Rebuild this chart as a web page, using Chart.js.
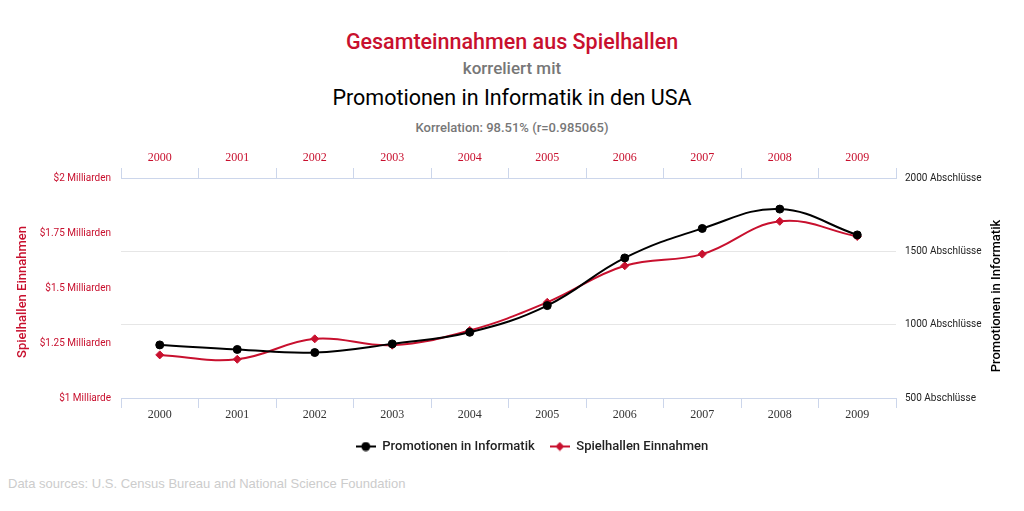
<!DOCTYPE html>
<html>
<head>
<meta charset="utf-8">
<script src="https://cdn.jsdelivr.net/npm/chart.js@4"></script>
<style>
    body { margin: 0; width: 1024px; height: 511px; background: #fff; position: relative; overflow: hidden; font-family: Roboto, sans-serif; }
    .line { position: absolute; left: 0; width: 1024px; text-align: center; white-space: nowrap; }
    #t1 { top: 28px; line-height: 28px; font-size: 21.5px; font-weight: 500; color: #c8102e; }
    #t2 { top: 56px; line-height: 24px; font-size: 17px; font-weight: 500; color: #777; }
    #t3 { top: 84px; line-height: 28px; font-size: 21.5px; color: #000; }
    #t4 { top: 119px; line-height: 18px; font-size: 13px; font-weight: 500; color: #777; }
    #chart { position: absolute; left: 0; top: 140px; }
    #quelle { position: absolute; left: 8px; top: 476px; line-height: 16px; font-family: "Liberation Sans", Arial, sans-serif; font-size: 13px; color: #ccc; }
</style>
</head>
<body>
<div class="line" id="t1">Gesamteinnahmen aus Spielhallen</div>
<div class="line" id="t2">korreliert mit</div>
<div class="line" id="t3">Promotionen in Informatik in den USA</div>
<div class="line" id="t4">Korrelation: 98.51% (r=0.985065)</div>
<canvas id="chart" width="1024" height="323"></canvas>
<div id="quelle">Data sources: U.S. Census Bureau and National Science Foundation</div>
<script>
const years = ['2000', '2001', '2002', '2003', '2004', '2005', '2006', '2007', '2008', '2009'];
// Promotionen (Abschlüsse)
const promotionen = [862, 831, 810, 869, 948, 1130, 1455, 1656, 1788, 1612];
// Spielhallen Einnahmen in Milliarden $
const einnahmen = [1.196, 1.176, 1.269, 1.240, 1.307, 1.435, 1.601, 1.654, 1.803, 1.734];
const leftTicks = [1, 1.25, 1.5, 1.75, 2];
const rightTicks = [500, 1000, 1500, 2000];

const ROT = '#c8102e';
const SCHWARZ = '#000000';
const ACHSE = '#ccd6eb';

function makeMarker(color, shape) {
    const c = document.createElement('canvas');
    c.width = 20;
    c.height = 10;
    const g = c.getContext('2d');
    g.strokeStyle = color;
    g.lineWidth = 2;
    g.beginPath();
    g.moveTo(0, 5);
    g.lineTo(20, 5);
    g.stroke();
    g.fillStyle = color;
    g.beginPath();
    if (shape === 'circle') {
        g.arc(10, 5, 4.5, 0, Math.PI * 2);
    } else {
        g.moveTo(10, 0.5);
        g.lineTo(14.5, 5);
        g.lineTo(10, 9.5);
        g.lineTo(5.5, 5);
        g.closePath();
    }
    g.fill();
    return c;
}

// Achsentitel (beide von unten nach oben gelesen)
const axisTitles = {
    id: 'axisTitles',
    afterDraw(chart) {
        const {ctx, chartArea} = chart;
        const mid = (chartArea.top + chartArea.bottom) / 2;
        ctx.save();
        ctx.font = '500 13px Roboto, sans-serif';
        ctx.textAlign = 'center';
        ctx.textBaseline = 'middle';

        ctx.save();
        ctx.translate(chartArea.left - 98, mid + 4);
        ctx.rotate(-Math.PI / 2);
        ctx.fillStyle = ROT;
        ctx.fillText('Spielhallen Einnahmen', 0, 0);
        ctx.restore();

        ctx.save();
        ctx.translate(chartArea.right + 101, mid + 8);
        ctx.rotate(-Math.PI / 2);
        ctx.fillStyle = SCHWARZ;
        ctx.fillText('Promotionen in Informatik', 0, 0);
        ctx.restore();

        ctx.restore();
    }
};

const serifFont = {family: '"Liberation Serif", "Times New Roman", serif', size: 12};
const smallFont = {family: 'Roboto, sans-serif', size: 10};

new Chart(document.getElementById('chart'), {
    type: 'line',
    data: {
        labels: years,
        datasets: [{
            label: 'Promotionen in Informatik',
            data: promotionen,
            yAxisID: 'yR',
            borderColor: SCHWARZ,
            backgroundColor: SCHWARZ,
            borderWidth: 2,
            tension: 0.4,
            pointStyle: 'circle',
            pointRadius: 4,
            pointBorderWidth: 1,
            marker: makeMarker(SCHWARZ, 'circle')
        }, {
            label: 'Spielhallen Einnahmen',
            data: einnahmen,
            yAxisID: 'yL',
            borderColor: ROT,
            backgroundColor: ROT,
            borderWidth: 2,
            tension: 0.4,
            pointStyle: 'rectRot',
            pointRadius: 4,
            pointBorderWidth: 1,
            marker: makeMarker(ROT, 'diamond')
        }]
    },
    options: {
        responsive: false,
        animation: false,
        devicePixelRatio: 1,
        layout: {padding: {left: 40, right: 0, top: 0, bottom: 0}},
        plugins: {
            title: {display: false},
            tooltip: {enabled: false},
            legend: {
                position: 'bottom',
                labels: {
                    usePointStyle: true,
                    pointStyleWidth: 20,
                    boxHeight: 10,
                    padding: 15,
                    color: '#222',
                    font: {family: 'Roboto, sans-serif', size: 13, weight: '500'},
                    generateLabels(chart) {
                        return chart.data.datasets.map((ds, i) => ({
                            text: ds.label,
                            fillStyle: ds.borderColor,
                            strokeStyle: ds.borderColor,
                            lineWidth: 0,
                            pointStyle: ds.marker,
                            hidden: false,
                            datasetIndex: i,
                            fontColor: '#222'
                        }));
                    }
                }
            }
        },
        scales: {
            x: {
                type: 'category',
                position: 'bottom',
                offset: true,
                grid: {offset: true, drawOnChartArea: false, drawTicks: true, tickLength: 10, color: ACHSE},
                border: {display: true, color: ACHSE},
                ticks: {color: '#333', font: serifFont, padding: 0, maxRotation: 0, autoSkip: false},
                afterFit(s) { s.height = 27; }
            },
            xTop: {
                type: 'category',
                position: 'top',
                labels: years,
                offset: true,
                grid: {offset: true, drawOnChartArea: false, drawTicks: true, tickLength: 10, color: ACHSE},
                border: {display: true, color: ACHSE},
                ticks: {color: ROT, font: serifFont, padding: 3, maxRotation: 0, autoSkip: false},
                afterFit(s) { s.height = 38; }
            },
            yL: {
                position: 'left',
                min: 1,
                max: 2,
                grid: {display: false, drawTicks: false},
                border: {display: false},
                afterBuildTicks(s) { s.ticks = leftTicks.map(v => ({value: v})); },
                ticks: {
                    color: ROT,
                    padding: 10,
                    font: smallFont,
                    callback: v => v === 1 ? '$1 Milliarde' : '$' + v + ' Milliarden'
                },
                afterFit(s) { s.width = 81; }
            },
            yR: {
                position: 'right',
                min: 500,
                max: 2000,
                grid: {display: true, drawTicks: false, color: '#e6e6e6'},
                border: {display: false},
                afterBuildTicks(s) { s.ticks = rightTicks.map(v => ({value: v})); },
                ticks: {
                    color: '#222',
                    padding: 9,
                    font: smallFont,
                    callback: v => v + ' Abschlüsse'
                },
                afterFit(s) { s.width = 128; }
            }
        }
    },
    plugins: [axisTitles]
});
</script>
</body>
</html>
